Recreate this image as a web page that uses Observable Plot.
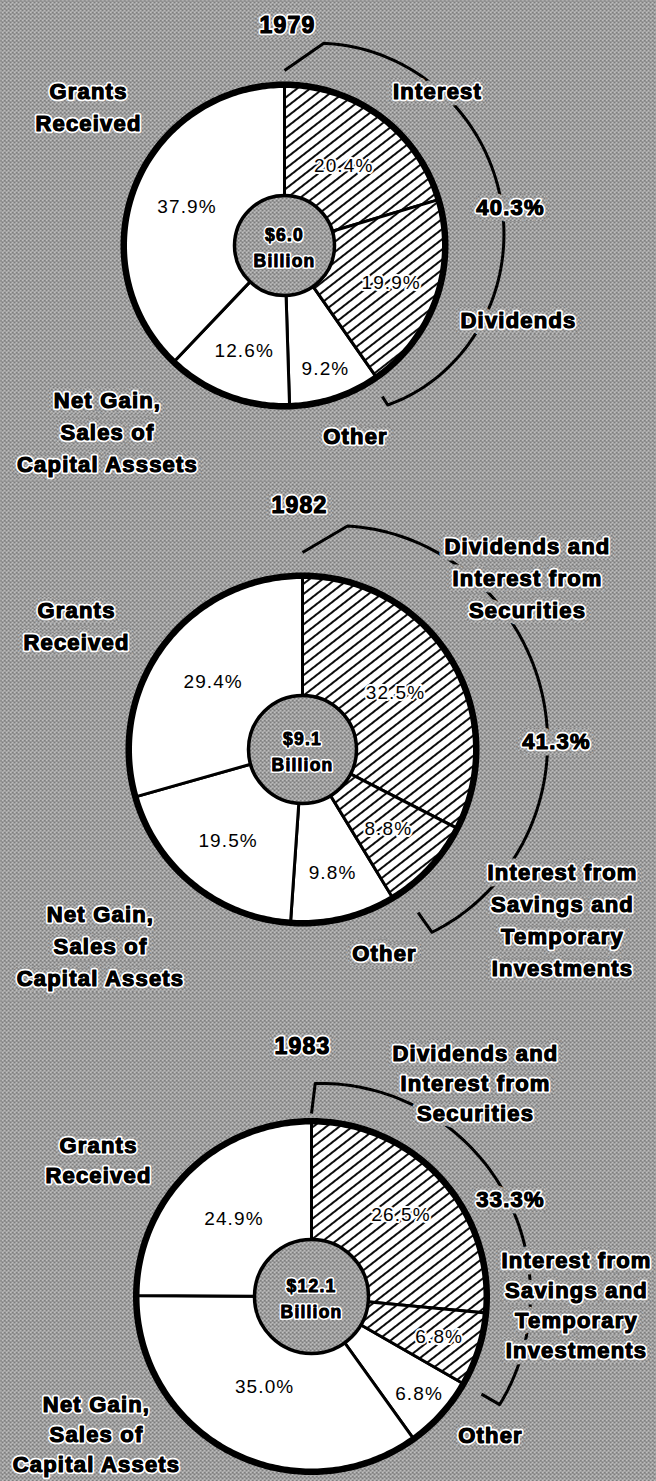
<!DOCTYPE html>
<html>
<head>
<meta charset="utf-8">
<script src="https://cdn.jsdelivr.net/npm/d3@7"></script>
<script src="https://cdn.jsdelivr.net/npm/@observablehq/plot@0.6"></script>
<style>
  html, body { margin: 0; padding: 0; background: #a0a0a0; }
  #chart { width: 656px; }
  #chart svg { display: block; }
  g[aria-description="bold"] text { letter-spacing: 1.2px; }
  g[aria-description="pct"] text { letter-spacing: 1.1px; }
  g[aria-description="center"] text { letter-spacing: 1.2px; }
</style>
</head>
<body>
<div id="chart"></div>
<script>
// ---------------- DATA ----------------
const years = ["1979", "1982", "1983"];
const totals = ["$6.0", "$9.1", "$12.1"];

const labels1979 = ["Interest", "Dividends", "Other", "Net Gain,\nSales of\nCapital Asssets", "Grants\nReceived"];
const values1979 = [20.4, 19.9, 9.2, 12.6, 37.9];

const labels1982 = ["Dividends and\nInterest from\nSecurities", "Interest from\nSavings and\nTemporary\nInvestments", "Other", "Net Gain,\nSales of\nCapital Assets", "Grants\nReceived"];
const values1982 = [32.5, 8.8, 9.8, 19.5, 29.4];

const labels1983 = ["Dividends and\nInterest from\nSecurities", "Interest from\nSavings and\nTemporary\nInvestments", "Other", "Net Gain,\nSales of\nCapital Assets", "Grants\nReceived"];
const values1983 = [26.5, 6.8, 6.8, 35.0, 24.9];

// which slices are investment income (hatched, bracketed)
const hatched = [true, true, false, false, false];

// ---------------- LAYOUT (pixels, relative to each pie centre) ----------------
const layout = [
  { H: 480, cx: 284, cy: 245, R: 164, rc: 52, lh: 1.45,
    pctR: [99, 113, 130, 113, 105],
    yearPos: [3, -223],
    labelPos: [[153, -157], [234, 72], [71, 188], [-177, 184], [-196, -141]],
    sumPos: [226, -41],
    br: { rIn0: 175, d: 11, r: [206, 221, 190], rIn1: 180, shift: 2 } },
  { H: 520, cx: 302, cy: 269, R: 177, rc: 56, lh: 1.45,
    pctR: [109, 117, 127, 118, 112],
    yearPos: [-3, -247],
    labelPos: [[225, -174], [260, 168], [82, 201], [-202, 194], [-226, -126]],
    sumPos: [254, -11],
    br: { rIn0: 197, d: 11.4, r: [228, 246, 224], rIn1: 200, shift: -4 } },
  { H: 481, cx: 311, cy: 296, R: 178.5, rc: 59, lh: 1.37,
    pctR: [121, 134, 145, 102, 110],
    yearPos: [-9, -253],
    labelPos: [[164, -215], [265, 7], [179, 137], [-215, 136], [-213, -138]],
    sumPos: [199, -99],
    br: { rIn0: 183, d: 1, r: [213, 219, 217], rIn1: 196, shift: 0 } }
];

const pies = [
  { year: years[0], total: totals[0], labels: labels1979, values: values1979 },
  { year: years[1], total: totals[1], labels: labels1982, values: values1982 },
  { year: years[2], total: totals[2], labels: labels1983, values: values1983 }
];

const FONT = "'Liberation Sans', Arial, Helvetica, sans-serif";
const deg = Math.PI / 180;
const polar = (a, r) => ({ x: r * Math.sin(a * deg), y: -r * Math.cos(a * deg) });

function makePie(p, L, idx) {
  const total = d3.sum(p.values);
  let cum = 0;
  const slices = p.values.map((v, i) => {
    const a0 = cum / total * 360; cum += v; const a1 = cum / total * 360;
    return { i, v, a0, a1, h: hatched[i], label: p.labels[i] };
  });
  const Rp = L.R - 3.25;

  // sector polygons
  const sectors = slices.flatMap(s => {
    const pts = [{ x: 0, y: 0, key: s.i, h: s.h }];
    const n = Math.max(2, Math.ceil(s.a1 - s.a0));
    for (let k = 0; k <= n; k++) {
      const a = s.a0 + (s.a1 - s.a0) * k / n;
      pts.push({ ...polar(a, Rp), key: s.i, h: s.h });
    }
    pts.push({ x: 0, y: 0, key: s.i, h: s.h });
    return pts;
  });

  const ring = d3.range(0, 361, 1).map(a => polar(a, Rp));

  // bracket around hatched slices
  const hs = slices.filter(s => s.h);
  const ha0 = d3.min(hs, s => s.a0), ha1 = d3.max(hs, s => s.a1);
  const hsum = d3.sum(hs, s => s.v);
  const br = L.br;
  const bracket = [polar(ha0, br.rIn0)];
  const bs = ha0 + br.d, be = ha1 + br.shift;
  for (let k = 0; k <= 80; k++) {
    const t = k / 80;
    const a = bs + (be - bs) * t;
    const r = br.r[0] * (1 - t) * (1 - 2 * t) + br.r[1] * 4 * t * (1 - t) + br.r[2] * t * (2 * t - 1);
    bracket.push(polar(a, r));
  }
  bracket.push(polar(be, br.rIn1));

  // text
  const boldLabels = slices.map(s => ({ text: s.label, x: L.labelPos[s.i][0], y: L.labelPos[s.i][1], size: 22 }));
  boldLabels.push({ text: hsum.toFixed(1) + "%", x: L.sumPos[0], y: L.sumPos[1], size: 22 });
  boldLabels.push({ text: p.year, x: L.yearPos[0], y: L.yearPos[1], size: 23 });
  const pctLabels = slices.map(s => {
    const m = (s.a0 + s.a1) / 2;
    return { text: s.v.toFixed(1) + "%", ...polar(m, L.pctR[s.i]) };
  });
  const centerLabel = [{ text: p.total + "\nBillion", x: 0, y: 0 }];

  const bg = `url(#bg${idx})`, hatch = `url(#hatch${idx})`;
  const boldOpts = { x: "x", y: "y", text: "text", fontSize: "size", ariaDescription: "bold", fontFamily: FONT, fontWeight: "bold", lineHeight: L.lh, strokeLinejoin: "round" };

  const svg = Plot.plot({
    width: 656,
    height: L.H,
    margin: 0,
    x: { domain: [-L.cx, 656 - L.cx], range: [0, 656], axis: null },
    y: { domain: [-L.cy, L.H - L.cy], range: [0, L.H], axis: null },
    marks: [
      Plot.frame({ fill: bg, stroke: "none" }),
      Plot.line(bracket, { x: "x", y: "y", stroke: "black", strokeWidth: 3, strokeLinejoin: "round", strokeLinecap: "butt" }),
      // knock the bracket out behind the labels
      Plot.text(boldLabels, { ...boldOpts, fill: "none", stroke: bg, strokeWidth: 13 }),
      Plot.line(sectors.filter(d => !d.h), { x: "x", y: "y", z: "key", fill: "white", stroke: "black", strokeWidth: 3, strokeLinejoin: "round" }),
      Plot.line(sectors.filter(d => d.h), { x: "x", y: "y", z: "key", fill: hatch, stroke: "black", strokeWidth: 3, strokeLinejoin: "round" }),
      Plot.line(ring, { x: "x", y: "y", stroke: "black", strokeWidth: 6.5 }),
      Plot.dot([{ x: 0, y: 0 }], { x: "x", y: "y", r: L.rc - 2, fill: bg, stroke: "black", strokeWidth: 3.5 }),
      Plot.text(pctLabels, { x: "x", y: "y", text: "text", ariaDescription: "pct", fill: "black", stroke: "white", strokeWidth: 4, fontFamily: FONT, fontSize: 19 }),
      Plot.text(centerLabel, { x: "x", y: "y", text: "text", ariaDescription: "center", fill: "black", stroke: "white", strokeWidth: 4, strokeLinejoin: "round", fontFamily: FONT, fontWeight: "bold", fontSize: 17.5, lineHeight: 1.5 }),
      Plot.text(centerLabel, { x: "x", y: "y", text: "text", ariaDescription: "center", fill: "black", stroke: "black", strokeWidth: 0.8, strokeLinejoin: "round", fontFamily: FONT, fontWeight: "bold", fontSize: 17.5, lineHeight: 1.5 }),
      // white halo, then a thin black stroke to thicken the bold glyphs
      Plot.text(boldLabels, { ...boldOpts, fill: "black", stroke: "white", strokeWidth: 4.5 }),
      Plot.text(boldLabels, { ...boldOpts, fill: "black", stroke: "black", strokeWidth: 1.1 })
    ]
  });

  d3.select(svg).insert("defs", ":first-child").html(`
    <pattern id="bg${idx}" width="4" height="4" patternUnits="userSpaceOnUse">
      <rect width="4" height="4" fill="#b2b2b2"/>
      <rect x="0" y="0" width="1" height="1" fill="#2e2e2e"/>
      <rect x="2" y="1" width="1" height="1" fill="#505050"/>
      <rect x="1" y="2" width="1" height="1" fill="#404040"/>
      <rect x="3" y="3" width="1" height="1" fill="#646464"/>
      <rect x="2" y="3" width="1" height="1" fill="#e4e4e4"/>
      <rect x="0" y="2" width="1" height="1" fill="#dadada"/>
    </pattern>
    <pattern id="hatch${idx}" width="8" height="8" patternUnits="userSpaceOnUse" patternTransform="rotate(-38)">
      <rect width="8" height="8" fill="white"/>
      <line x1="0" y1="4" x2="8" y2="4" stroke="black" stroke-width="1.9"/>
    </pattern>`);
  return svg;
}

const host = document.getElementById("chart");
pies.forEach((p, i) => host.appendChild(makePie(p, layout[i], i)));
</script>
</body>
</html>
